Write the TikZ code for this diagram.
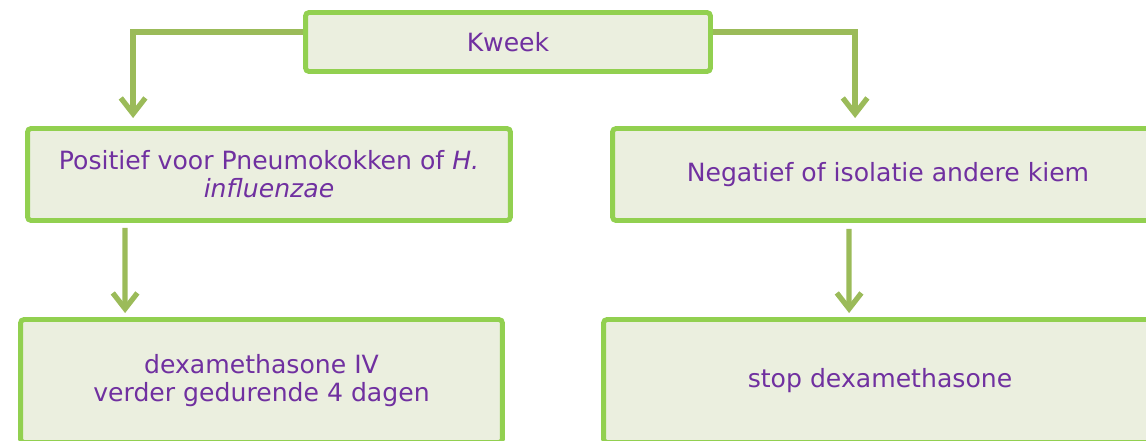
\documentclass[tikz,border=0pt]{standalone}
\usepackage{fontspec}
\setmainfont{DejaVu Sans}
\usetikzlibrary{arrows.meta, positioning, calc}
\definecolor{kader}{HTML}{92D050}
\definecolor{vulling}{HTML}{EBEFDF}
\definecolor{pijlkleur}{HTML}{9BBB59}
\definecolor{tekst}{HTML}{7030A0}

\begin{document}
\begin{tikzpicture}[x=0.02cm,y=-0.02cm,>={Straight Barb[length=9pt,width=14pt]},
    vak/.style={draw=kader, line width=2.8pt, fill=vulling, rounded corners=2pt, text=tekst, align=center, inner sep=0pt, font=\fontsize{14.3}{16}\selectfont},
    pijl/.style={->, draw=pijlkleur, line width=3pt}]
    \useasboundingbox (0,0) rectangle (1146,440);
    \clip (0,0) rectangle (1146,440);

    % Vakken
    \node (kweek) [vak, minimum width=8.1cm, minimum height=1.18cm] at (508,42) {Kweek};
    \node (links) [vak, minimum width=9.66cm, minimum height=1.84cm] at (269,174.5) {Positief voor Pneumokokken of \textit{H.}\\\textit{influenzae}};
    \node (rechts) [vak, minimum width=11.02cm, minimum height=1.84cm] at (888,174.5) {Negatief of isolatie andere kiem};
    \node (linksonder) [vak, minimum width=9.64cm, minimum height=2.46cm] at (261.5,381) {dexamethasone IV\\verder gedurende 4 dagen};
    \node (rechtsonder) [vak, minimum width=11.06cm, minimum height=2.46cm] at (880,381) {stop dexamethasone};

    % Pijlen
    \draw[pijl] ($(kweek.west)+(0,-10)$) -| ($(links.north west)+(108,-8)$);
    \draw[pijl] ($(kweek.east)+(0,-10)$) -| ($(rechts.north west)+(245,-8)$);
    \draw[pijl] ($(links.south west)+(100,5)$) -- ($(linksonder.north west)+(107,-4)$);
    \draw[pijl] ($(rechts.south west)+(239,6)$) -- ($(rechtsonder.north west)+(248,-4)$);
\end{tikzpicture}
\end{document}
